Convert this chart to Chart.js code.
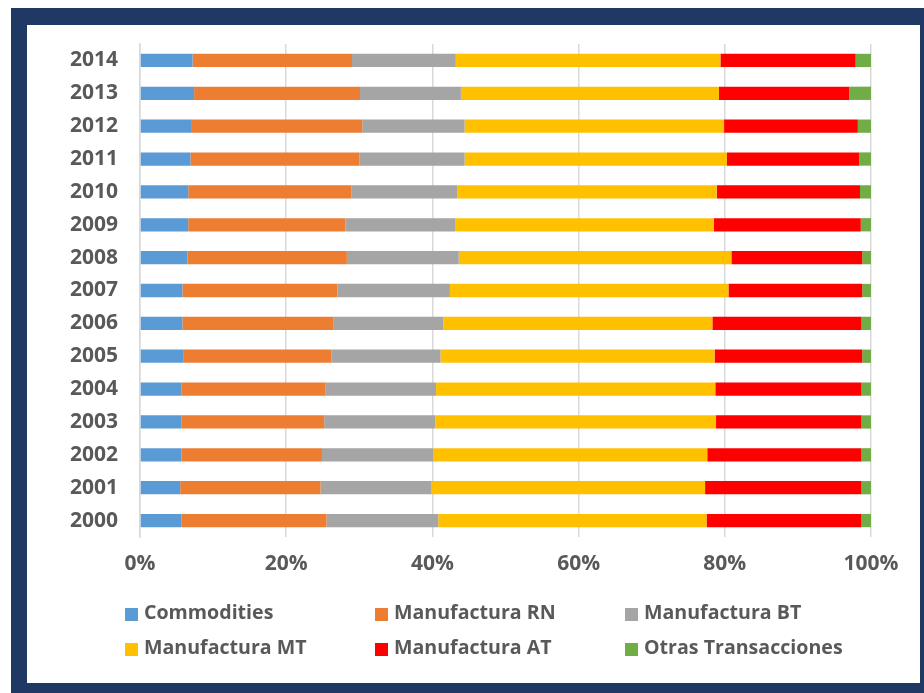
<!DOCTYPE html>
<html><head><meta charset="utf-8">
<script src="https://cdn.jsdelivr.net/npm/chart.js@4.4.1/dist/chart.umd.min.js"></script>
<style>
html,body{margin:0;padding:0;width:924px;height:693px;overflow:hidden;background:#fff;}
#outer{position:absolute;left:11px;top:8px;width:920px;height:685px;background:#203864;}
#inner{position:absolute;left:27px;top:25px;width:893px;height:658px;background:#fff;}
#c{position:absolute;left:0;top:0;}
.lbl{position:absolute;font:bold 19.6px 'Open Sans';color:#595959;white-space:nowrap;line-height:28px;}
.box{position:absolute;width:13px;height:13px;}
</style>
</head><body>
<div id="outer"></div><div id="inner"></div>
<canvas id="c" width="924" height="693"></canvas>
<div id="legend"></div>
<script>
const years = ['2000','2001','2002','2003','2004','2005','2006','2007','2008','2009','2010','2011','2012','2013','2014'];
const seriesNames = ['Commodities','Manufactura RN','Manufactura BT','Manufactura MT','Manufactura AT','Otras Transacciones'];
const seriesColors = ['#5B9BD5','#ED7D31','#A5A5A5','#FFC000','#FF0000','#70AD47'];
const commodities   = [5.7, 5.5, 5.65, 5.7, 5.65, 5.9, 5.8, 5.8, 6.5, 6.6, 6.6, 6.9, 7.1, 7.4, 7.2];
const manufRN       = [19.8, 19.2, 19.25, 19.5, 19.75, 20.3, 20.7, 21.2, 21.8, 21.5, 22.3, 23.1, 23.3, 22.7, 21.8];
const manufBT       = [15.3, 15.2, 15.2, 15.2, 15.1, 14.9, 15.0, 15.4, 15.3, 15.0, 14.5, 14.4, 14.0, 13.8, 14.2];
const manufMT       = [36.7, 37.4, 37.5, 38.4, 38.2, 37.5, 36.8, 38.1, 37.3, 35.4, 35.5, 35.9, 35.5, 35.3, 36.2];
const manufAT       = [21.2, 21.4, 21.1, 19.9, 20.0, 20.2, 20.4, 18.3, 17.9, 20.1, 19.6, 18.1, 18.3, 17.8, 18.5];
const otras         = [1.3, 1.3, 1.3, 1.3, 1.3, 1.2, 1.3, 1.2, 1.2, 1.4, 1.5, 1.6, 1.8, 3.0, 2.1];
const xTicks = [0, 20, 40, 60, 80, 100];

const seriesData = [commodities, manufRN, manufBT, manufMT, manufAT, otras];
const textColor = '#595959';
const font = {family:'Open Sans', weight:'bold', size:21};

function draw(){
  new Chart(document.getElementById('c'), {
    type:'bar',
    data:{
      labels: years,
      datasets: seriesNames.map((n,i)=>({
        label:n, data:seriesData[i], backgroundColor:seriesColors[i],
        borderWidth:0, barPercentage:0.404, categoryPercentage:1
      }))
    },
    options:{
      indexAxis:'y', responsive:false, animation:false,
      layout:{padding:{left:0, top:44, right:53, bottom:116}},
      plugins:{legend:{display:false}, tooltip:{enabled:false}},
      scales:{
        x:{
          stacked:true, min:0, max:100,
          afterBuildTicks(s){ s.ticks = xTicks.map(v=>({value:v})); },
          ticks:{callback:v=>v+'%', color:textColor, font:font, padding:14, maxRotation:0, autoSkip:false},
          grid:{color:'#D9D9D9', lineWidth:1.5, drawTicks:false},
          border:{display:false},
          afterFit(s){ s.height = 40; }
        },
        y:{
          stacked:true, reverse:true,
          ticks:{color:textColor, font:font, padding:22, autoSkip:false},
          grid:{display:false, drawTicks:false},
          border:{display:true, color:'#D9D9D9', width:1.5},
          afterFit(s){ s.width = 140; }
        }
      }
    }
  });
  const lg = document.getElementById('legend');
  seriesNames.forEach((n,i)=>{
    const col = i%3, row = Math.floor(i/3);
    const b = document.createElement('div');
    b.className='box'; b.style.background=seriesColors[i];
    b.style.left=(125+250*col)+'px'; b.style.top=(608+34.5*row)+'px';
    lg.appendChild(b);
    const t = document.createElement('div');
    t.className='lbl'; t.textContent=n;
    t.style.left=(144+250*col)+'px'; t.style.top=(598+35*row)+'px';
    lg.appendChild(t);
  });
}
if (document.fonts && document.fonts.load) {
  Promise.all([document.fonts.load("bold 21px 'Open Sans'")]).then(draw, draw);
} else draw();
</script>
</body></html>
